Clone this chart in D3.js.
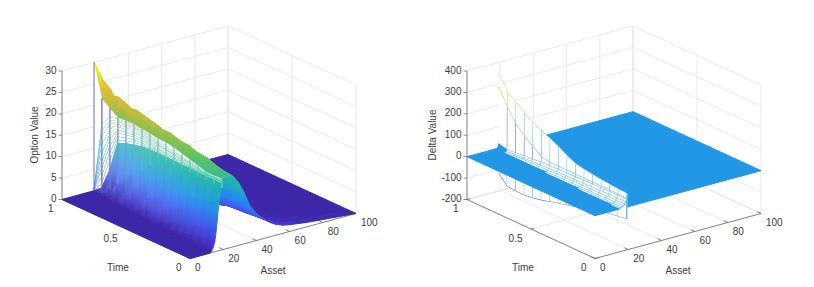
<!DOCTYPE html>
<html>
<head>
<meta charset="utf-8">
<script src="https://cdn.jsdelivr.net/npm/d3@7"></script>
<style>
    html, body { margin: 0; background: #fff; }
    text { font-family: "Liberation Sans", Arial, sans-serif; font-size: 10px; fill: #404040; }
</style>
</head>
<body>
<svg id="chart" width="814" height="287"></svg>
<script>
// left surface: time columns, asset rows, one value list per asset row
const optionTimes = [0, 0.0625, 0.125, 0.1875, 0.25, 0.3125, 0.375, 0.4375, 0.5, 0.5625, 0.625, 0.6875, 0.75, 0.8125, 0.875, 0.9375, 1];
const optionAssets = [0, 12, 13, 14, 15, 16, 17, 17.5, 18, 18.4, 18.7, 19, 19.03, 19.06, 19.09, 19.12, 19.15, 19.18, 19.21, 19.23, 19.25, 19.28, 19.3, 19.6, 20, 21, 22, 23.5, 25, 27, 29, 32, 36, 40, 44, 49, 52, 56, 60, 70, 80, 90, 100];
const optionValues = [
    [0, 0, 0, 0, 0, 0, 0, 0, 0, 0, 0, 0, 0, 0, 0, 0, 0],
    [0, 0, 0, 0, 0, 0, 0, 0, 0, 0, 0, 0, 0, 0, 0, 0, 0],
    [0.4, 0.25, 0.05, 0, 0, 0, 0, 0, 0, 0, 0, 0, 0, 0, 0, 0, 0],
    [1.2, 0.9, 0.55, 0.3, 0.1, 0, 0, 0, 0, 0, 0, 0, 0, 0, 0, 0, 0],
    [2.5, 2.1, 1.7, 1.25, 0.95, 0.5, 0.27, 0, 0, 0, 0, 0, 0, 0, 0, 0, 0],
    [5.5, 4.8, 4.2, 3.3, 2.5, 1.95, 1.4, 0.95, 0.4, 0.1, 0, 0, 0, 0, 0, 0, 0],
    [9.5, 9, 8.5, 7.8, 6.7, 5.8, 5, 3.8, 2.5, 1.9, 0.9, 0.24, 0, 0, 0, 0, 0],
    [11, 10.5, 10, 9.8, 9.5, 8.9, 8.2, 7.2, 5.6, 4.4, 2.3, 1.4, 0.4, 0, 0, 0, 0],
    [12.5, 12.4, 12.1, 11.7, 11.5, 11.1, 10.7, 10.3, 9.6, 8.8, 6.7, 4.8, 2.3, 0.8, 0, 0, 0],
    [13.8, 13.6, 13.3, 13.2, 13.1, 13, 12.9, 12.5, 12.1, 11.6, 10.5, 9.5, 7.2, 4.2, 0.65, 0, 0],
    [14.7, 14.7, 14.6, 14.6, 14.6, 14.5, 14.5, 14.3, 14.1, 13.5, 13, 12.3, 11.2, 9.2, 3.4, 0.14, 0],
    [15.5, 15.5, 15.5, 15.5, 15.6, 15.6, 15.7, 15.7, 15.7, 15.7, 15.5, 15, 14.5, 13.6, 6.5, 1.5, 0],
    [15.7, 15.7, 15.7, 15.7, 15.8, 15.9, 16, 16, 16, 16, 15.9, 15.6, 15.1, 14.4, 8.5, 2.5, 0],
    [15.7, 15.7, 15.7, 15.7, 15.8, 15.9, 16, 16, 16.2, 16.3, 16.3, 16.2, 15.8, 15.2, 10.5, 4, 0],
    [15.8, 15.8, 15.8, 15.9, 16, 16.2, 16.3, 16.4, 16.5, 16.7, 16.8, 16.8, 16.5, 16, 12, 6, 0],
    [15.8, 15.8, 15.8, 15.9, 16, 16.2, 16.3, 16.4, 16.7, 17, 17.2, 17.3, 17.1, 16.8, 13.5, 7.5, 0],
    [15.9, 15.9, 15.9, 16.1, 16.3, 16.5, 16.6, 16.8, 17, 17.3, 17.6, 17.8, 17.7, 17.5, 14.8, 9.5, 0],
    [16.1, 16, 16, 16.3, 16.5, 16.8, 17, 17.3, 17.5, 17.8, 18, 18.2, 18.2, 18.1, 16, 11.5, 0],
    [16.1, 16, 16, 16.3, 16.5, 16.8, 17, 17.3, 17.7, 18.1, 18.4, 18.6, 18.7, 18.7, 17.2, 13.5, 0],
    [16.25, 16.15, 16.15, 16.5, 16.8, 17.1, 17.3, 17.7, 18.1, 18.5, 18.8, 19, 19.1, 19.1, 18, 15, 0],
    [16.4, 16.3, 16.3, 16.7, 17, 17.3, 17.6, 18.1, 18.5, 18.9, 19.1, 19.3, 19.4, 19.4, 18.8, 16.5, 0],
    [14.5, 14.5, 14.5, 14.5, 14.5, 14.5, 14.5, 14.5, 13.5, 12, 10, 8, 6, 4, 2, 0.3, 0],
    [16.6, 16.5, 16.5, 17.1, 17.6, 18.2, 18.7, 19, 19.1, 19.4, 19.6, 19.8, 19.8, 19.7, 20.9, 22.4, 30],
    [16.61, 16.53, 16.55, 17.16, 17.69, 18.31, 18.88, 19.26, 19.5, 19.9, 20.3, 20.73, 21.4, 22.46, 25.4, 26.8, 30],
    [16.63, 16.56, 16.62, 17.25, 17.82, 18.47, 19.12, 19.6, 20.04, 20.8, 21.6, 22.6, 23.5, 24.3, 24, 22, 5],
    [16.66, 16.65, 16.8, 17.46, 18.12, 18.84, 19.7, 20.46, 21.4, 21.9, 22.4, 22.9, 22.6, 20.5, 17.5, 13, 1],
    [16.7, 16.74, 16.97, 17.67, 18.43, 19.2, 20.3, 20.9, 20.9, 21, 21, 20.5, 19, 16, 12.5, 7.5, 0.3],
    [16.75, 16.87, 17.24, 18, 18.9, 19.6, 19.7, 19.3, 18.6, 17.6, 16.3, 15, 13, 10.5, 7.5, 3.2, 0],
    [16.8, 17, 17.5, 18.2, 18.4, 18.2, 17.6, 16.6, 15.6, 14.2, 12.6, 11, 9, 6.5, 3.8, 1.2, 0],
    [15.9, 16.2, 16.4, 16.4, 16.2, 15.7, 14.8, 13.8, 12.7, 11.2, 9.6, 7.8, 6, 4, 1.9, 0.4, 0],
    [14.8, 14.8, 14.7, 14.5, 14.1, 13.5, 12.7, 11.6, 10.4, 9, 7.4, 5.9, 4.3, 2.7, 1.2, 0.2, 0],
    [12.5, 12.3, 12, 11.7, 11.3, 10.6, 9.8, 8.8, 7.8, 6.6, 5.4, 4.2, 3, 1.7, 0.7, 0.1, 0],
    [8.6, 8.6, 8.5, 8.4, 8.1, 7.6, 7, 6.2, 5.3, 4.4, 3.4, 2.5, 1.7, 0.9, 0.3, 0, 0],
    [6.3, 6.1, 5.9, 5.5, 5.2, 4.9, 4.4, 3.7, 3, 2.3, 1.7, 1.1, 0.7, 0.3, 0.1, 0, 0],
    [4.7, 4.5, 4.4, 4.2, 4.1, 3.7, 3.2, 2.5, 1.8, 1.2, 0.8, 0.5, 0.3, 0.1, 0, 0, 0],
    [3.2, 3.2, 3.2, 3.1, 2.9, 2.6, 2.4, 1.7, 1.1, 0.7, 0.4, 0.2, 0.1, 0, 0, 0, 0],
    [2.5, 2.4, 2.3, 2.1, 1.9, 1.8, 1.7, 1.1, 0.6, 0.3, 0.2, 0.1, 0, 0, 0, 0, 0],
    [1.9, 1.7, 1.5, 1.3, 1.1, 0.9, 0.75, 0.5, 0.3, 0.15, 0.05, 0, 0, 0, 0, 0, 0],
    [1.6, 1.1, 0.6, 0.45, 0.3, 0.2, 0.1, 0.05, 0, 0, 0, 0, 0, 0, 0, 0, 0],
    [1.05, 0.6, 0.3, 0.15, 0.05, 0, 0, 0, 0, 0, 0, 0, 0, 0, 0, 0, 0],
    [0.7, 0.3, 0.1, 0, 0, 0, 0, 0, 0, 0, 0, 0, 0, 0, 0, 0, 0],
    [0.35, 0.1, 0, 0, 0, 0, 0, 0, 0, 0, 0, 0, 0, 0, 0, 0, 0],
    [0, 0, 0, 0, 0, 0, 0, 0, 0, 0, 0, 0, 0, 0, 0, 0, 0]
];

// right surface
const deltaTimes = [0, 0.0667, 0.1333, 0.2, 0.2667, 0.3333, 0.4, 0.4667, 0.5333, 0.6, 0.6667, 0.7333, 0.8, 0.8667, 0.9333, 1];
const deltaAssets = [0, 14.5, 15, 16, 17, 18, 18.5, 19, 19.1, 19.2, 19.3, 19.5, 100];
const deltaValues = [
    [0, 0, 0, 0, 0, 0, 0, 0, 0, 0, 0, 0, 0, 0, 0, 0],
    [0, 0, 0, 0, 0, 0, 0, 0, 0, 0, 0, 0, 0, 0, 0, 0],
    [3, 2, 1, 0, 0, 0, 0, 0, 0, 0, 0, 0, 0, 0, 0, 0],
    [6, 5, 4, 3, 3, 2, 1, 0.5, 0, 0, 0, 0, 0, 0, 0, 0],
    [10, 9, 8, 7, 6.5, 6, 5, 4, 3, 2, 1, 0, 0, 0, 0, 0],
    [16, 15, 14, 13, 12.5, 12, 11, 10, 9, 8, 7, 6, 5, 3, 1, 0],
    [25, 24, 23, 22, 21, 20, 19, 18, 17, 15, 13, 11, 9, 7, 4, 1],
    [37, 36, 35, 34, 33, 32, 31, 30, 29, 27, 25, 22, 19, 14, 10, 20],
    [-53, -60, -67, -75, -85, -95, -108, -118, -128, -138, -150, -158, -163, -163, -158, -114],
    [40, 41, 41, 42, 42, 42, 42, 42, 42, 42, 49, 79, 108, 150, 207, 285],
    [63, 65, 68, 72, 77, 83, 91, 110, 133, 153, 170, 191, 216, 248, 281, 341],
    [0, 0, 0, 0, 0, 0, 0, 0, 0, 0, 0, 0, 0, 0, 0, 0],
    [0, 0, 0, 0, 0, 0, 0, 0, 0, 0, 0, 0, 0, 0, 0, 0]
];

const assetTicks = [0, 20, 40, 60, 80, 100];
const timeTicks = [0, 0.5, 1];
const optionTicks = [0, 5, 10, 15, 20, 25, 30];
const deltaTicks = [-200, -100, 0, 100, 200, 300, 400];

const svg = d3.select('#chart');
const defs = svg.append('defs');
const GRID = '#e2e2e2', AXIS = '#5a5a5a';
let gradCount = 0;

// parula like map, the 0..1 position is set by the z limits of each chart
const parulaStops = [0, 0.125, 0.25, 0.323, 0.5, 0.625, 0.7, 0.82, 0.9, 1];
const parulaColors = ['#3e26a8', '#4749ee', '#2e7af8', '#2196e6', '#1fb8a8', '#6cc45a', '#a8bf45', '#eab52f', '#fbbf3a', '#f9fb15'];

function drawSurface(opts) {
    let g = svg.append('g').attr('transform', 'translate(' + opts.left + ',0)');
    let assets = opts.assets, times = opts.times, values = opts.values;

    // the box is an oblique projection, one scale per screen direction
    let assetX = d3.scaleLinear().domain([0, 100]).range([0, 166]);
    let assetY = d3.scaleLinear().domain([0, 100]).range([0, -45]);
    let timeX = d3.scaleLinear().domain([1, 0]).range([0, 128]);
    let timeY = d3.scaleLinear().domain([1, 0]).range([0, 59]);
    let zY = d3.scaleLinear().domain(opts.zDomain).range([199.5, 71]);
    let unit = d3.scaleLinear().domain(parulaStops).range(parulaColors).interpolate(d3.interpolateRgb).clamp(true);
    let colorScale = d3.scaleLinear().domain(opts.colorDomain).range([0, 1]).clamp(true);
    let color = z => unit(colorScale(z));
    let lighter = (c, w) => d3.interpolateRgb(c, '#fff')(w);
    let zLow = opts.zDomain[0], zHigh = opts.zDomain[1];

    function project(a, t, z) {
        return [62 + assetX(a) + timeX(t), assetY(a) + timeY(t) + zY(z)];
    }
    let line = (p, q) => 'M' + p[0] + ',' + p[1] + 'L' + q[0] + ',' + q[1];
    let addLine = (p, q, stroke, width) => g.append('path').attr('d', line(p, q)).attr('stroke', stroke)
        .attr('stroke-width', width).attr('fill', 'none');

    // back planes
    opts.zTicks.forEach(function (z) {
        addLine(project(0, 1, z), project(100, 1, z), GRID, 0.7);
        addLine(project(100, 1, z), project(100, 0, z), GRID, 0.7);
    });
    assetTicks.forEach(function (a) {
        addLine(project(a, 1, zLow), project(a, 1, zHigh), GRID, 0.7);
        addLine(project(a, 0, zLow), project(a, 1, zLow), GRID, 0.7);
    });
    timeTicks.forEach(function (t) {
        addLine(project(100, t, zLow), project(100, t, zHigh), GRID, 0.7);
        addLine(project(0, t, zLow), project(100, t, zLow), GRID, 0.7);
    });

    // axes and tick labels
    addLine(project(0, 1, zLow), project(0, 1, zHigh), AXIS, 0.7);
    addLine(project(0, 1, zLow), project(0, 0, zLow), AXIS, 0.7);
    addLine(project(0, 0, zLow), project(100, 0, zLow), AXIS, 0.7);
    opts.zTicks.forEach(function (z) {
        let p = project(0, 1, z);
        addLine(p, [p[0] - 3.5, p[1]], AXIS, 0.7);
        g.append('text').attr('x', p[0] - 5.5).attr('y', p[1] + 2.5).attr('text-anchor', 'end').text(z);
    });
    timeTicks.forEach(function (t) {
        let p = project(0, t, zLow);
        addLine(p, project(2, t, zLow), AXIS, 0.7);
        g.append('text').attr('x', p[0] - 8.5).attr('y', p[1] + 12.5).attr('text-anchor', 'end').text(t);
    });
    assetTicks.forEach(function (a) {
        let p = project(a, 0, zLow);
        addLine(p, project(a, 0.03, zLow), AXIS, 0.7);
        g.append('text').attr('x', p[0] + 5).attr('y', p[1] + 12.5).attr('text-anchor', 'start').text(a);
    });
    g.append('text').attr('x', 118).attr('y', 270.5).attr('text-anchor', 'middle').text('Time');
    g.append('text').attr('x', 273).attr('y', 273.5).attr('text-anchor', 'middle').text('Asset');
    g.append('text').attr('transform', 'translate(' + opts.labelX + ',135) rotate(-90)').attr('text-anchor', 'middle').text(opts.zLabel);

    // mesh, painted far to near: high asset rows first, high time columns first
    let pieces = [];
    for (let i = assets.length - 2; i >= 0; i--) {
        for (let k = times.length - 2; k >= 0; k--) {
            let z = [values[i][k], values[i][k + 1], values[i + 1][k + 1], values[i + 1][k]];
            let pts = [project(assets[i], times[k], z[0]), project(assets[i], times[k + 1], z[1]),
                project(assets[i + 1], times[k + 1], z[2]), project(assets[i + 1], times[k], z[3])];
            let d = 'M' + pts.join('L') + 'Z';
            if (opts.isSparse(i, k, z)) {
                pieces.push({ d: d, fill: '#fff', stroke: 'none', width: 0 });
                let c = lighter(color(z[0]), opts.meshTint);
                pieces.push({ d: line(pts[0], pts[1]), fill: 'none', stroke: c, width: opts.meshWidth });
                pieces.push({ d: line(pts[0], pts[3]), fill: 'none', stroke: c, width: opts.meshWidth });
                continue;
            }
            let tint = opts.tint(i, k);
            // steep parts of the wall let white through, the floor does not
            let shade = v => lighter(color(v), tint * Math.min(1, v / 4));
            let lo = d3.minIndex(z), hi = d3.maxIndex(z);
            let paint = shade(z[lo]);
            if (z[hi] - z[lo] > (opts.colorDomain[1] - opts.colorDomain[0]) * 0.01) {
                let id = 'grad' + (gradCount++);
                let grad = defs.append('linearGradient').attr('id', id).attr('gradientUnits', 'userSpaceOnUse')
                    .attr('x1', pts[lo][0]).attr('y1', pts[lo][1]).attr('x2', pts[hi][0]).attr('y2', pts[hi][1]);
                grad.append('stop').attr('offset', 0).attr('stop-color', shade(z[lo]));
                grad.append('stop').attr('offset', 1).attr('stop-color', shade(z[hi]));
                paint = 'url(#' + id + ')';
            }
            pieces.push({ d: d, fill: paint, stroke: paint, width: 1 });
            if (tint > 0 && z[0] > 0.5) {
                pieces.push({ d: line(pts[0], pts[3]), fill: 'none', stroke: color(z[0]), width: 0.7 });
            }
        }
    }
    // the jump at the strike stays in view over everything nearer
    if (opts.jumpRow !== undefined) {
        let r = opts.jumpRow;
        times.forEach(function (t, k) {
            pieces.push({
                d: line(project(assets[r], t, values[r][k]), project(assets[r + 1], t, values[r + 1][k])),
                fill: 'none', stroke: lighter(color(values[r][k]), 0.3), width: 1
            });
        });
    }
    g.append('g').selectAll('path').data(pieces).join('path')
        .attr('d', d => d.d)
        .attr('fill', d => d.fill)
        .attr('stroke', d => d.stroke)
        .attr('stroke-width', d => d.width);
}

drawSurface({
    left: 0, labelX: 38, zLabel: 'Option Value',
    assets: optionAssets, times: optionTimes, values: optionValues,
    zDomain: [0, 30], colorDomain: [0, 30], zTicks: optionTicks, meshWidth: 0.8, meshTint: 0,
    jumpRow: optionAssets.indexOf(19.28),
    isSparse: i => optionAssets[i] >= 19 && optionAssets[i] < 19.3,
    // the steep wall is thinner mesh, paler further back in time
    tint: function (i, k) {
        if (optionAssets[i] < 12 || optionAssets[i] >= 19) return 0;
        return 0.3 * optionTimes[k];
    }
});

drawSurface({
    left: 405, labelX: 31, zLabel: 'Delta Value',
    assets: deltaAssets, times: deltaTimes, values: deltaValues,
    zDomain: [-200, 400], colorDomain: [-165, 341], zTicks: deltaTicks, meshWidth: 1.1, meshTint: 0.3,
    isSparse: function (i, k, z) {
        if (deltaAssets[i] < 19 && deltaTimes[k] > 0.9) return false;
        return d3.max(z, Math.abs) > 2;
    },
    tint: () => 0
});
</script>
</body>
</html>
